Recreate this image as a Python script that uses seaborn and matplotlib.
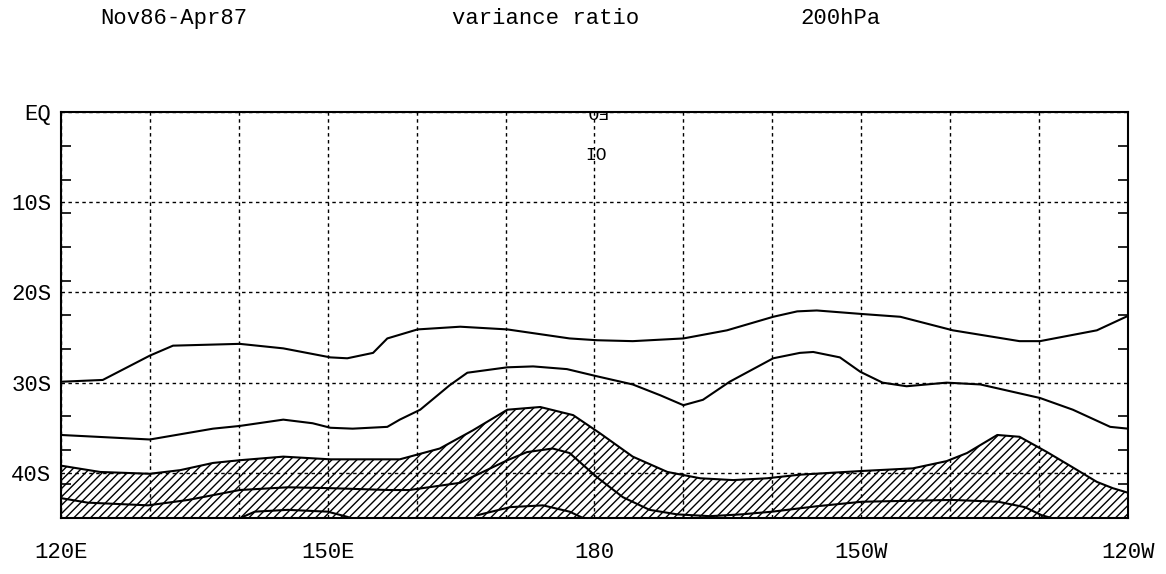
import numpy as np
import seaborn as sns
import matplotlib.pyplot as plt

# contours: longitude (deg, 180 = dateline, 240 = 120W) and latitude (deg S)
lon_a = [120, 124.7, 130.0, 132.6, 140.1, 145.0, 150.3, 152.2, 155.1, 156.7, 160.1, 164.9, 170.2,
         177.2, 180.3, 184.3, 190.0, 194.9, 200.1, 202.8, 205.0, 210.2, 214.4, 220.3, 227.8, 230.1,
         236.5, 240]
lat_a = [29.9, 29.7, 27.0, 25.9, 25.7, 26.2, 27.2, 27.3, 26.7, 25.1, 24.1, 23.8, 24.1,
         25.1, 25.3, 25.4, 25.1, 24.2, 22.7, 22.1, 22.0, 22.4, 22.7, 24.2, 25.4, 25.4,
         24.2, 22.6]

lon_b = [120, 130.0, 137.1, 140.1, 145.0, 148.3, 150.3, 152.8, 156.7, 158.1, 160.4, 163.7, 165.7,
         170.2, 173.1, 176.9, 180.3, 184.3, 187.4, 190.0, 192.2, 195.2, 200.1, 203.1, 204.6, 207.6,
         209.9, 212.4, 215.1, 219.6, 223.4, 230.1, 233.8, 238.0, 240]
lat_b = [35.8, 36.3, 35.1, 34.8, 34.1, 34.5, 35.0, 35.1, 34.9, 34.1, 33.0, 30.3, 28.9,
         28.3, 28.2, 28.5, 29.3, 30.2, 31.4, 32.5, 31.9, 29.9, 27.3, 26.7, 26.6, 27.2,
         28.8, 30.0, 30.4, 30.0, 30.2, 31.7, 33.0, 34.9, 35.1]

# upper edge of the hatched area
lon_c = [120, 124.4, 130.0, 133.4, 137.1, 140.1, 145.0, 150.3, 158.1, 162.6, 166.3, 170.2, 173.9,
         177.6, 180.6, 184.3, 188.2, 191.9, 195.6, 199.4, 203.1, 209.9, 215.8, 219.6, 221.9, 225.3,
         227.8, 230.9, 233.8, 236.5, 238.3, 240]
lat_c = [39.2, 39.9, 40.1, 39.7, 38.9, 38.6, 38.2, 38.5, 38.5, 37.3, 35.3, 33.0, 32.7,
         33.6, 35.6, 38.2, 39.9, 40.6, 40.8, 40.6, 40.2, 39.8, 39.5, 38.7, 37.8, 35.8,
         36.0, 37.7, 39.4, 41.0, 41.7, 42.2]

lon_d = [120, 123.0, 129.8, 134.3, 140.1, 145.5, 150.5, 156.8, 159.2, 164.9, 170.2, 172.4, 175.3,
         177.2, 180.3, 183.2, 186.2, 189.3, 193.0, 196.5, 200.0, 205.0, 210.1, 220.2, 225.4, 228.4,
         230.3, 231.4]
lat_d = [42.8, 43.3, 43.6, 43.0, 41.9, 41.6, 41.7, 41.9, 41.9, 41.1, 38.6, 37.7, 37.3,
         37.8, 40.5, 42.7, 44.1, 44.6, 44.8, 44.6, 44.3, 43.7, 43.2, 43.0, 43.2, 43.8,
         44.7, 45.0]

lon_e1 = [140.4, 141.8, 145.5, 150.0, 152.3]
lat_e1 = [44.9, 44.3, 44.1, 44.3, 44.9]
lon_e2 = [166.8, 170.5, 174.2, 177.2, 178.7]
lat_e2 = [44.7, 43.8, 43.6, 44.3, 45.0]

x_ticks = [120, 130, 140, 150, 160, 170, 180, 190, 200, 210, 220, 230, 240]
x_labels = ['120E', '', '', '150E', '', '', '180', '', '', '150W', '', '', '120W']
y_ticks = [0, 10, 20, 30, 40]
y_labels = ['EQ', '10S', '20S', '30S', '40S']
y_minor = [3.75, 7.5, 11.25, 15, 18.75, 22.5, 26.25, 30, 33.75, 37.5, 41.25]

sns.set_theme(style="white")
plt.rcParams['font.family'] = ['Liberation Mono', 'DejaVu Sans Mono']
plt.rcParams['hatch.linewidth'] = 1.0

fig = plt.figure(figsize=(11.66, 5.74), dpi=100)
ax = fig.add_axes([0.0523, 0.0976, 0.9151, 0.7073])

# hatched band from the lowest contour down to the frame
ax.fill_between(lon_c, lat_c, 45, facecolor='none', edgecolor='black', hatch='////', linewidth=0)

for lon, lat in [(lon_a, lat_a), (lon_b, lat_b), (lon_c, lat_c), (lon_d, lat_d),
                 (lon_e1, lat_e1), (lon_e2, lat_e2)]:
    sns.lineplot(x=lon, y=lat, ax=ax, color='black', lw=1.5, sort=False, estimator=None)

ax.set_xlim(120, 240)
ax.set_ylim(45, 0)
ax.set_xticks(x_ticks)
ax.set_xticklabels(x_labels)
ax.set_yticks(y_ticks)
ax.set_yticklabels(y_labels)
ax.set_yticks(y_minor, minor=True)
ax.set_xlabel('')
ax.set_ylabel('')

ax.grid(True, which='major', color='black', linestyle=(0, (2.5, 2.5)), linewidth=1.0)
ax.tick_params(axis='x', which='major', length=0, pad=17, labelsize=16, colors='black')
ax.tick_params(axis='y', which='major', length=0, pad=7, labelsize=16, colors='black')
ax.tick_params(axis='y', which='minor', direction='in', length=7, width=1.2,
               left=True, right=True, color='black')
for s in ax.spines.values():
    s.set_color('black')
    s.set_linewidth(1.5)

# stray marks near the dateline at the top of the frame
ax.text(180.2, 4.8, 'IO', ha='center', va='center', fontsize=13, color='black')
ax.text(180.2, -0.2, 'EQ', ha='center', va='center', fontsize=13, color='black',
        rotation=180, clip_on=True)

fig.text(0.0858, 0.967, 'Nov86-Apr87', fontsize=16, va='center', color='black')
fig.text(0.3877, 0.967, 'variance ratio', fontsize=16, va='center', color='black')
fig.text(0.686, 0.967, '200hPa', fontsize=16, va='center', color='black')

fig.savefig('out.png', dpi=100)
